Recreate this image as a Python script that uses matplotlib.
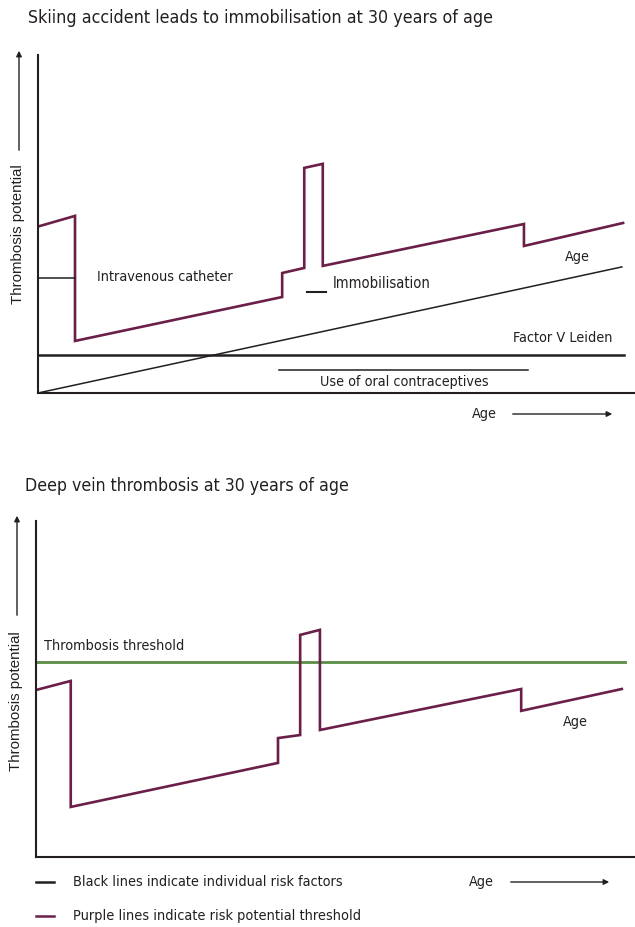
import matplotlib
matplotlib.use('Agg')
import matplotlib.pyplot as plt
from matplotlib import font_manager

W, H = 635, 927
PURPLE = '#6b1f48'
BLACK = '#231f20'
GREEN = '#5b8c45'

# top panel: age (0-100) vs thrombosis potential (0-100)
top_risk_x = [0.3, 6.2, 6.2, 40.9, 40.9, 44.6, 44.6, 47.7, 47.7, 81.4, 81.4, 98.0]
top_risk_y = [49.4, 52.4, 15.4, 28.4, 35.5, 37.0, 66.6, 67.8, 37.6, 50.0, 43.5, 50.3]
age_x = [0.0, 97.8]
age_y = [0.0, 37.3]
factor_v_x = [0.0, 98.2]
factor_v_y = [11.2, 11.2]
contraceptive_x = [40.4, 82.1]
contraceptive_y = [6.8, 6.8]
catheter_x = [0.0, 6.2]
catheter_y = [34.0, 34.0]
immob_x = [45.1, 48.2]
immob_y = [29.9, 29.9]

# bottom panel
dvt_risk_x = [0.0, 5.8, 5.8, 40.4, 40.4, 44.1, 44.1, 47.4, 47.4, 81.0, 81.0, 97.8]
dvt_risk_y = [49.7, 52.4, 14.9, 28.0, 35.4, 36.3, 66.1, 67.6, 37.8, 50.0, 43.5, 50.0]
threshold_x = [0.0, 98.3]
threshold_y = [58.0, 58.0]

# pick a narrow face if one is installed
fonts = font_manager.fontManager.ttflist
names = {f.name for f in fonts}
stretch = 'normal'
if 'Liberation Sans Narrow' in names:
    family = 'Liberation Sans Narrow'
elif any(f.name == 'DejaVu Sans' and f.stretch == 'condensed' for f in fonts):
    family, stretch = 'DejaVu Sans', 'condensed'
elif 'Roboto Condensed' in names:
    family = 'Roboto Condensed'
elif 'Open Sans Condensed' in names:
    family = 'Open Sans Condensed'
else:
    family = 'Roboto'
plt.rcParams['font.family'] = [family, 'DejaVu Sans']
plt.rcParams['font.stretch'] = stretch


def px(x, y):
    return x / W, 1 - y / H


fig = plt.figure(figsize=(W / 100, H / 100), dpi=100)
renderer = fig.canvas.get_renderer()


def label(x, y, s, width, ha='left', **kw):
    # place text and size it so its rendered width matches the reference
    t = fig.text(*px(x, y), s, fontsize=10, va='center', ha=ha, color=BLACK, **kw)
    w = t.get_window_extent(renderer).width
    t.set_fontsize(10 * width / w)
    return t


def make_axes(left, top, bottom):
    l, b = px(left, bottom)
    ax = fig.add_axes([l, b, 1 - l, (bottom - top) / H])
    ax.set_xlim(0, 100)
    ax.set_ylim(0, 100)
    ax.spines['top'].set_visible(False)
    ax.spines['right'].set_visible(False)
    for s in ('left', 'bottom'):
        ax.spines[s].set_linewidth(1.5)
        ax.spines[s].set_color(BLACK)
    ax.set_xticks([])
    ax.set_yticks([])
    ax.patch.set_alpha(0)
    return ax


def arrow(x0, y0, x1, y1):
    fig.add_artist(matplotlib.patches.FancyArrowPatch(
        px(x0, y0), px(x1, y1), transform=fig.transFigure,
        arrowstyle='-|>', mutation_scale=8, lw=1.0, color=BLACK))


def ylabel(xc, yc, y_arrow_bottom, y_arrow_top):
    fig.text(*px(xc, yc), 'Thrombosis potential', rotation=90, ha='center', va='center',
             fontsize=10.8, family=['Liberation Sans', 'DejaVu Sans'], stretch='normal',
             color=BLACK)
    arrow(xc + 1, y_arrow_bottom, xc + 1, y_arrow_top)


# ---- top panel
ax1 = make_axes(38, 55, 393)
ax1.plot(top_risk_x, top_risk_y, color=PURPLE, lw=1.9, solid_joinstyle='miter')
ax1.plot(age_x, age_y, color=BLACK, lw=1.1)
ax1.plot(factor_v_x, factor_v_y, color=BLACK, lw=1.8)
ax1.plot(contraceptive_x, contraceptive_y, color=BLACK, lw=1.1)
ax1.plot(catheter_x, catheter_y, color=BLACK, lw=1.1)
ax1.plot(immob_x, immob_y, color=BLACK, lw=1.5)

label(28, 18, 'Skiing accident leads to immobilisation at 30 years of age', 466)
label(97, 277, 'Intravenous catheter', 136)
label(333, 283, 'Immobilisation', 98)
label(577, 257, 'Age', 25, ha='center')
label(563, 338, 'Factor V Leiden', 100, ha='center')
label(404, 382, 'Use of oral contraceptives', 168, ha='center')
label(484, 414, 'Age', 25, ha='center')
arrow(510, 414, 615, 414)
ylabel(18, 234, 153, 48)

# ---- bottom panel
ax2 = make_axes(36, 521, 857)
ax2.plot(threshold_x, threshold_y, color=GREEN, lw=2.0)
ax2.plot(dvt_risk_x, dvt_risk_y, color=PURPLE, lw=1.9, solid_joinstyle='miter')

label(25, 486, 'Deep vein thrombosis at 30 years of age', 325)
label(44, 646, 'Thrombosis threshold', 140)
label(575, 722, 'Age', 25, ha='center')
label(481, 882, 'Age', 25, ha='center')
arrow(508, 882, 612, 882)
ylabel(16, 701, 618, 513)

# legend
fig.add_artist(matplotlib.lines.Line2D([36 / W, 54 / W], [1 - 882 / H] * 2, color=BLACK, lw=1.8))
fig.add_artist(matplotlib.lines.Line2D([36 / W, 54 / W], [1 - 916 / H] * 2, color=PURPLE, lw=1.8))
label(73, 882, 'Black lines indicate individual risk factors', 269)
label(73, 916, 'Purple lines indicate risk potential threshold', 287)

fig.savefig('out.png', dpi=100)
